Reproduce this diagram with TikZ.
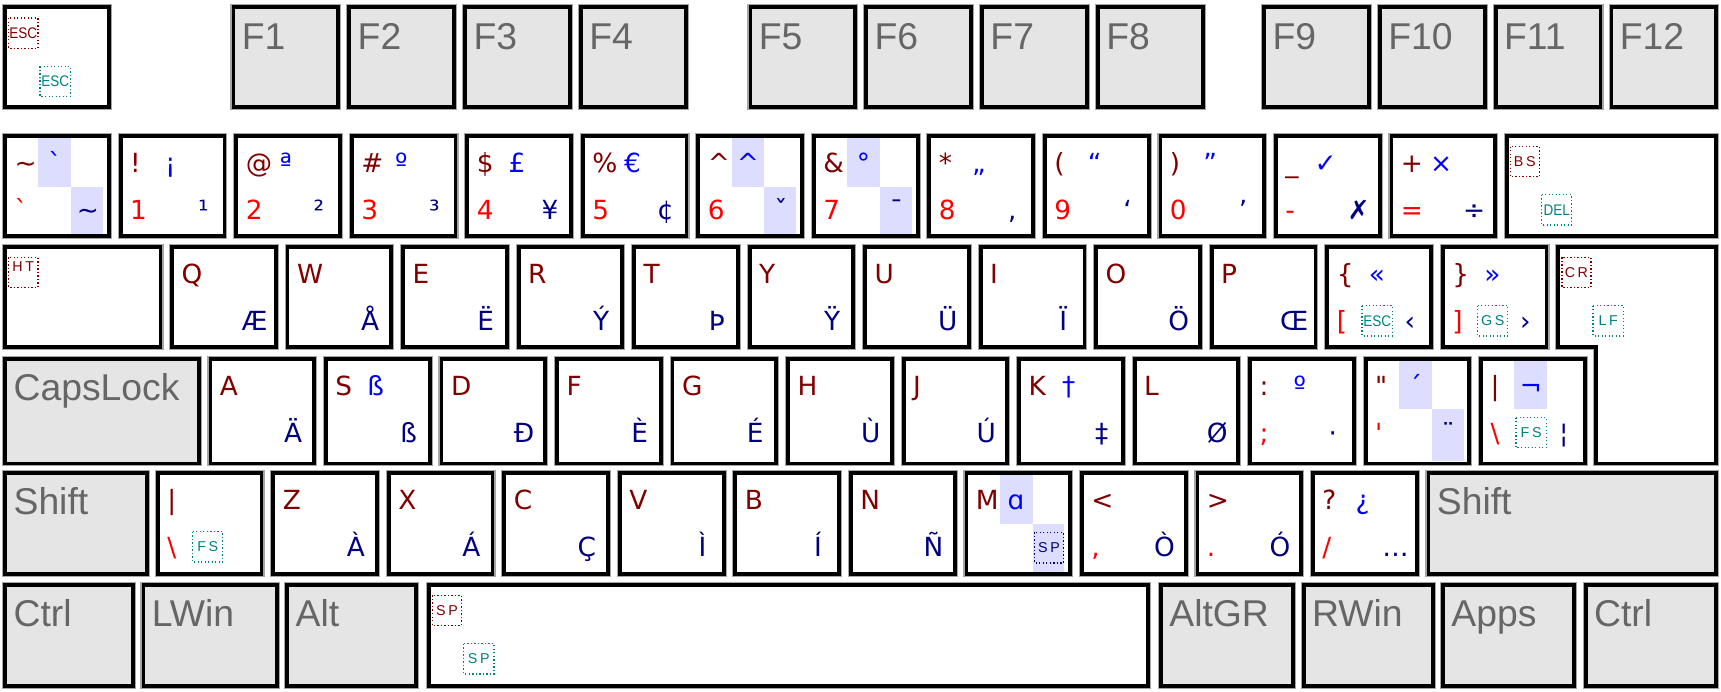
\documentclass[tikz,border=0pt]{standalone}
\usepackage{fontspec}
\usepackage{graphicx}
\newfontfamily\kf{DejaVu Sans}
\newfontfamily\af{Liberation Sans}
\definecolor{dred}{RGB}{128,0,0}
\definecolor{kblue}{RGB}{0,0,255}
\definecolor{kred}{RGB}{255,0,0}
\definecolor{knavy}{RGB}{0,0,128}
\definecolor{kteal}{RGB}{0,128,128}
\definecolor{khl}{RGB}{221,221,255}
\definecolor{kgray}{RGB}{229,229,229}
\definecolor{ktext}{RGB}{102,102,102}
\tikzset{
 kshadow/.style={draw=black!35,line width=0.5pt},
 kborder/.style={draw=black,line width=1.75pt},
 lab/.style={inner sep=0pt,font=\kf\fontsize{12}{14}\selectfont},
 ltl/.style={lab,anchor=base west,text=dred},
 ltm/.style={lab,anchor=base,text=kblue},
 lbl/.style={lab,anchor=base west,text=kred},
 lbr/.style={lab,anchor=base,text=knavy},
 glab/.style={inner sep=0pt,anchor=base west,text=ktext,font=\af\fontsize{17}{20}\selectfont},
 dbox/.style={densely dotted,line width=0.6pt},
 btxt/.style={inner sep=0pt,font=\af\fontsize{6.5}{7}\selectfont},
}
\def\kh{95}
\newcommand\krect[4]{%
 \draw[kshadow] (#1-0.5,#2-0.5) rectangle (#1+#3+0.5,#2+#4+0.5);
 \draw[kborder,fill=white] (#1+1.75,#2+1.75) rectangle (#1+#3-1.75,#2+#4-1.75);}
\newcommand\grect[5]{%
 \draw[kshadow] (#2-0.5,#3-0.5) rectangle (#2+#4+0.5,#3+\kh+0.5);
 \draw[kborder,fill=kgray] (#2+1.75,#3+1.75) rectangle (#2+#4-1.75,#3+\kh-1.75);
 \node[glab] (#1) at (#2+9,#3+40) {#5};}
\newcommand\klab[7]{%
 \node[ltl] (#1-tl) at (#2+10,#3+35.5) {#4};
 \node[ltm] (#1-tm) at (#2+47,#3+35.5) {#5};
 \node[lbl] (#1-bl) at (#2+10,#3+78) {#6};
 \node[lbr] (#1-br) at (#2+77,#3+78) {#7};}
\newcommand\ck[7]{\krect{#2}{#3}{98}{\kh}\klab{#1}{#2}{#3}{#4}{#5}{#6}{#7}}
\newcommand\hltm[2]{\fill[khl] (#1+32,#2+4) rectangle (#1+62,#2+48);}
\newcommand\hlbr[2]{\fill[khl] (#1+62,#2+48) rectangle (#1+91,#2+\kh-4);}
\newcommand\rbox[4]{%
 \draw[dbox,draw=dred] (#2+5,#3+11.5) rectangle (#2+31.5,#3+39);
 \node[btxt,text=dred] (#1) at (#2+18.25,#3+25.25) {#4};}
\newcommand\tbox[5]{%
 \draw[dbox,draw=#5] (#2+33.5,#3+55.5) rectangle (#2+61,#3+83);
 \node[btxt,text=#5] (#1) at (#2+47.25,#3+69.25) {#4};}
\def\sp#1#2{#1\hspace{1.2pt}#2}
\def\tw#1{\scalebox{0.88}[1]{\fontsize{7}{8}\selectfont #1}}
\begin{document}
\begin{tikzpicture}[x=0.5pt,y=-0.5pt]
\useasboundingbox (0,0) rectangle (1568,629.6);
% ---------- row 0
\def\kh{94}
\krect{3}{5}{98}{\kh}
\rbox{escA}{3}{5}{\tw{ESC}}
\tbox{escB}{3}{5}{\tw{ESC}}{kteal}
\grect{f1}{211}{5}{99}{F1}
\grect{f2}{316.5}{5}{99}{F2}
\grect{f3}{422}{5}{99}{F3}
\grect{f4}{527.5}{5}{99}{F4}
\grect{f5}{682}{5}{99}{F5}
\grect{f6}{787.5}{5}{99}{F6}
\grect{f7}{893}{5}{99}{F7}
\grect{f8}{998.5}{5}{99}{F8}
\grect{f9}{1150}{5}{99}{F9}
\grect{f10}{1255.5}{5}{99}{F10}
\grect{f11}{1361}{5}{99}{F11}
\grect{f12}{1466.5}{5}{99}{F12}
% ---------- row 1
\def\kh{95}
\krect{3}{122}{98}{\kh}\hltm{3}{122}\hlbr{3}{122}
\klab{ktil}{3}{122}{\char"7E}{\char"60}{\char"60}{\char"7E}
\ck{k1}{108.25}{122}{!}{¡}{1}{¹}
\ck{k2}{213.5}{122}{@}{ª}{2}{²}
\ck{k3}{318.75}{122}{\#}{º}{3}{³}
\ck{k4}{424}{122}{\$}{£}{4}{¥}
\ck{k5}{529.25}{122}{\%}{€}{5}{¢}
\krect{634.5}{122}{98}{\kh}\hltm{634.5}{122}\hlbr{634.5}{122}
\klab{k6}{634.5}{122}{\char"5E}{\char"5E}{6}{ˇ}
\krect{739.75}{122}{98}{\kh}\hltm{739.75}{122}\hlbr{739.75}{122}
\klab{k7}{739.75}{122}{\&}{°}{7}{¯}
\ck{k8}{845}{122}{*}{„}{8}{‚}
\ck{k9}{950.25}{122}{(}{“}{9}{‘}
\ck{k0}{1055.5}{122}{)}{”}{0}{’}
\ck{kmin}{1160.75}{122}{\char"5F}{✓}{-}{✗}
\ck{keq}{1266}{122}{+}{×}{=}{÷}
\krect{1371}{122}{194}{\kh}
\rbox{bs}{1371}{122}{\sp BS}
\tbox{del}{1371}{122}{\tw{DEL}}{kteal}
% ---------- row 2
\krect{3}{223}{145}{\kh}
\draw[dbox,draw=dred] (8,234.5) rectangle (34.5,262);
\node[btxt,text=dred,anchor=north] (ht) at (21.25,238) {\sp HT};
\ck{kq}{155}{223}{Q}{}{}{Æ}
\ck{kw}{260.25}{223}{W}{}{}{Å}
\ck{ke}{365.5}{223}{E}{}{}{Ë}
\ck{kr}{470.75}{223}{R}{}{}{Ý}
\ck{kt}{576}{223}{T}{}{}{Þ}
\ck{ky}{681.25}{223}{Y}{}{}{Ÿ}
\ck{ku}{786.5}{223}{U}{}{}{Ü}
\ck{ki}{891.75}{223}{I}{}{}{Ï}
\ck{ko}{997}{223}{O}{}{}{Ö}
\ck{kp}{1102.25}{223}{P}{}{}{Œ}
\ck{klb}{1207.5}{223}{\{}{«}{[}{‹}
\tbox{escC}{1207.5}{223}{\tw{ESC}}{kteal}
\ck{krb}{1312.75}{223}{\}}{»}{]}{›}
\tbox{gs}{1312.75}{223}{\sp GS}{kteal}
% enter
\draw[kshadow] (1417.5,222.5) -- (1565.5,222.5) -- (1565.5,424.5) -- (1451.5,424.5) -- (1451.5,318.5) -- (1417.5,318.5) -- cycle;
\draw[kborder,fill=white] (1419.75,224.75) -- (1563.25,224.75) -- (1563.25,422.25) -- (1453.75,422.25) -- (1453.75,316.25) -- (1419.75,316.25) -- cycle;
\rbox{cr}{1418}{223}{\sp CR}
\tbox{lf}{1418}{223}{\sp LF}{kteal}
% ---------- row 3
\def\kh{99}
\grect{caps}{3}{325}{180}{CapsLock}
\ck{ka}{190}{325}{A}{}{}{Ä}
\ck{ks}{295.25}{325}{S}{ß}{}{ß}
\ck{kd}{400.5}{325}{D}{}{}{Đ}
\ck{kf}{505.75}{325}{F}{}{}{È}
\ck{kg}{611}{325}{G}{}{}{É}
\ck{kh}{716.25}{325}{H}{}{}{Ù}
\ck{kj}{821.5}{325}{J}{}{}{Ú}
\ck{kk}{926.75}{325}{K}{†}{}{‡}
\ck{kl}{1032}{325}{L}{}{}{Ø}
\ck{ksc}{1137.25}{325}{:}{º}{;}{·}
\krect{1242.5}{325}{98}{\kh}\hltm{1242.5}{325}\hlbr{1242.5}{325}
\klab{kap}{1242.5}{325}{"}{´}{'}{¨}
\krect{1347.75}{325}{98}{\kh}\hltm{1347.75}{325}
\klab{kbs}{1347.75}{325}{|}{¬}{\char"5C}{¦}
\tbox{fsA}{1347.75}{325}{\sp FS}{kteal}
% ---------- row 4
\def\kh{96}
\grect{lshift}{3}{429}{133}{Shift}
\ck{kpipe}{142}{429}{|}{}{\char"5C}{}
\tbox{fsB}{142}{429}{\sp FS}{kteal}
\ck{kz}{247.25}{429}{Z}{}{}{À}
\ck{kx}{352.5}{429}{X}{}{}{Á}
\ck{kc}{457.75}{429}{C}{}{}{Ç}
\ck{kv}{563}{429}{V}{}{}{Ì}
\ck{kb}{668.25}{429}{B}{}{}{Í}
\ck{kn}{773.5}{429}{N}{}{}{Ñ}
\krect{878.75}{429}{98}{\kh}\hltm{878.75}{429}\hlbr{878.75}{429}
\klab{km}{878.75}{429}{M}{ɑ}{}{}
\draw[dbox,draw=knavy] (878.75+64,429+56) rectangle (878.75+90,429+84);
\node[btxt,text=knavy] (spm) at (878.75+77,429+70) {\sp SP};
\ck{klt}{984}{429}{<}{}{,}{Ò}
\ck{kgt}{1089.25}{429}{>}{}{.}{Ó}
\ck{kqm}{1194.5}{429}{?}{¿}{/}{…}
\grect{rshift}{1299.75}{429}{265.25}{Shift}
% ---------- row 5
\grect{lctrl}{3}{531}{120}{Ctrl}
\grect{lwin}{129}{531}{125}{LWin}
\grect{lalt}{260}{531}{121}{Alt}
\krect{389}{531}{659}{\kh}
\rbox{spA}{389}{531}{\sp SP}
\tbox{spB}{389}{531}{\sp SP}{kteal}
\grect{altgr}{1056}{531}{124}{AltGR}
\grect{rwin}{1186}{531}{121}{RWin}
\grect{apps}{1313}{531}{123}{Apps}
\grect{rctrl}{1443}{531}{122}{Ctrl}
\end{tikzpicture}
\end{document}
